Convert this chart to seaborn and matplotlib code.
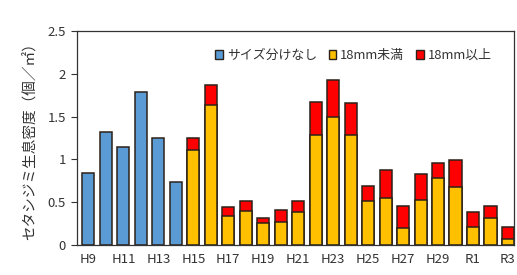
import numpy as np
import pandas as pd
import matplotlib
matplotlib.use("Agg")
import matplotlib.pyplot as plt
from matplotlib.patches import Patch
import seaborn as sns

# data
years = ["H9", "H10", "H11", "H12", "H13", "H14", "H15", "H16", "H17", "H18",
         "H19", "H20", "H21", "H22", "H23", "H24", "H25", "H26", "H27", "H28",
         "H29", "H30", "R1", "R2", "R3"]
no_size = [0.84, 1.32, 1.14, 1.79, 1.25, 0.74] + [np.nan] * 19
under18 = [np.nan] * 6 + [1.11, 1.64, 0.34, 0.40, 0.26, 0.27, 0.39, 1.29, 1.50,
                          1.29, 0.51, 0.55, 0.20, 0.53, 0.78, 0.68, 0.21, 0.32, 0.07]
over18 = [np.nan] * 6 + [0.14, 0.23, 0.11, 0.11, 0.06, 0.14, 0.12, 0.38, 0.43,
                         0.37, 0.18, 0.33, 0.26, 0.30, 0.18, 0.31, 0.18, 0.14, 0.14]
tick_labels = ["H9", "H11", "H13", "H15", "H17", "H19", "H21", "H23", "H25",
               "H27", "H29", "R1", "R3"]

df = pd.DataFrame({"year": years, "no_size": no_size,
                   "under18": under18, "over18": over18})
df["total"] = df["under18"] + df["over18"]

sns.set_style("white")
plt.rcParams["font.family"] = ["Noto Sans CJK JP", "DejaVu Sans"]

blue = "#5B9BD5"
yellow = "#FFC000"
red = "#FF0000"
edge = "#2b2118"

fig = plt.figure(figsize=(5.17, 2.75), dpi=100)
ax = fig.add_axes([0.149, 0.109, 0.845, 0.778])

kw = dict(x="year", order=years, width=0.69, edgecolor=edge, linewidth=1.1,
          ax=ax, errorbar=None)
sns.barplot(data=df, y="no_size", color=blue, saturation=1, **kw)
sns.barplot(data=df, y="total", color=red, saturation=1, **kw)
sns.barplot(data=df, y="under18", color=yellow, saturation=1, **kw)

ax.set_xlim(-0.65, 24.34)
ax.set_ylim(0, 2.5)
ax.set_yticks([0, 0.5, 1, 1.5, 2, 2.5])
ax.set_yticklabels(["0", "0.5", "1", "1.5", "2", "2.5"])
ax.set_xticks([years.index(t) for t in tick_labels])
ax.set_xticklabels(tick_labels)
ax.tick_params(axis="y", length=4, width=0.8, color="#333333", pad=4,
               labelsize=9.5, labelcolor="#333333", left=True)
ax.tick_params(axis="x", length=0, pad=6, labelsize=9.5, labelcolor="#333333")
ax.set_xlabel("")
ax.set_ylabel("セタシジミ生息密度（個／㎡）", fontsize=10.5, color="#333333", labelpad=7)
for s in ax.spines.values():
    s.set_color("#333333")
    s.set_linewidth(0.9)

handles = [Patch(facecolor=blue, edgecolor=edge, label="サイズ分けなし"),
           Patch(facecolor=yellow, edgecolor=edge, label="18mm未満"),
           Patch(facecolor=red, edgecolor=edge, label="18mm以上")]
ax.legend(handles=handles, ncol=3, frameon=False, fontsize=9.3,
          loc="upper left", bbox_to_anchor=(0.29, 0.97),
          handlelength=0.6, handleheight=0.6, handletextpad=0.3,
          columnspacing=0.9, labelcolor="#333333")

# title sits mostly above the cropped image edge
fig.text(0.5, 0.992, "セタシジミ生息密度の推移（瀬田川）", ha="center", va="bottom",
         fontsize=12, color="#333333")

fig.savefig("out.png", dpi=100)
